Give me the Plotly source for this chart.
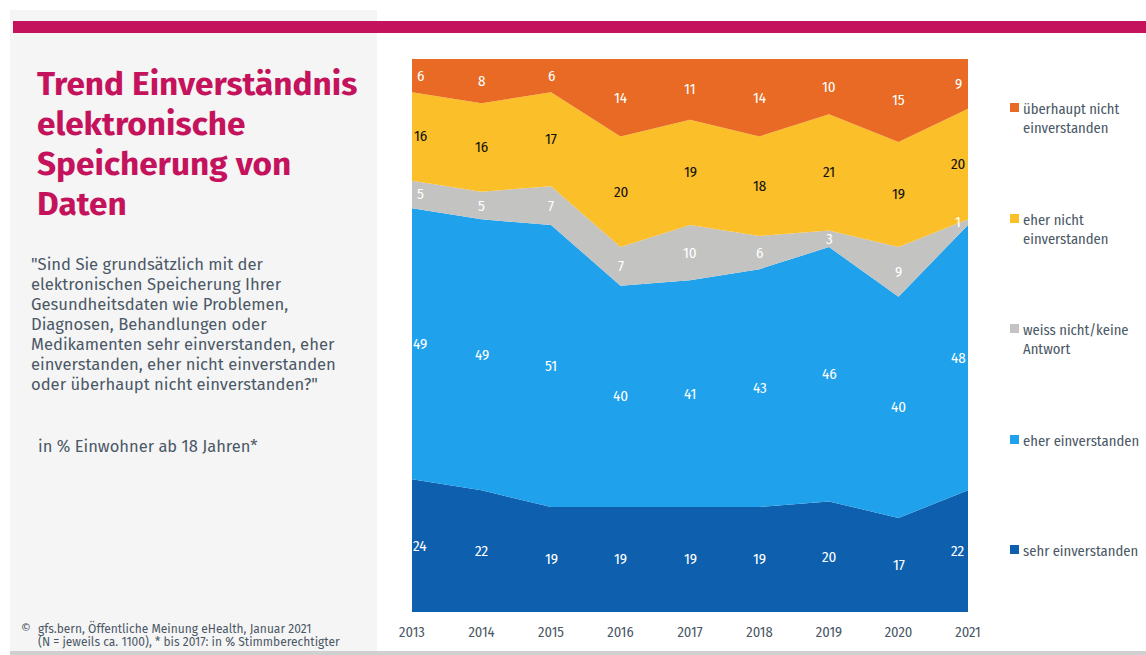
import plotly.graph_objects as go

years = [2013, 2014, 2015, 2016, 2017, 2018, 2019, 2020, 2021]
year_labels = [str(y) for y in years]

series_names = ["sehr einverstanden", "eher einverstanden", "weiss nicht/keine<br>Antwort",
                "eher nicht<br>einverstanden", "überhaupt nicht<br>einverstanden"]
sehr = [24, 22, 19, 19, 19, 19, 20, 17, 22]
eher_ein = [49, 49, 51, 40, 41, 43, 46, 40, 48]
weiss = [5, 5, 7, 7, 10, 6, 3, 9, 1]
eher_nicht = [16, 16, 17, 20, 19, 18, 21, 19, 20]
ueberhaupt = [6, 8, 6, 14, 11, 14, 10, 15, 9]
series_values = [sehr, eher_ein, weiss, eher_nicht, ueberhaupt]
colors = ["#0E5FAE", "#1FA1EB", "#C3C3C1", "#FBBF29", "#E86A24"]
label_colors = ["white", "white", "white", "#111111", "white"]

title_lines = ["Trend Einverständnis", "elektronische", "Speicherung von", "Daten"]
question_lines = ['"Sind Sie grundsätzlich mit der', "elektronischen Speicherung Ihrer",
                  "Gesundheitsdaten wie Problemen,", "Diagnosen, Behandlungen oder",
                  "Medikamenten sehr einverstanden, eher", "einverstanden, eher nicht einverstanden",
                  'oder überhaupt nicht einverstanden?"']
base_text = "in % Einwohner ab 18 Jahren*"
source_lines = ["gfs.bern, Öffentliche Meinung eHealth, Januar 2021",
                "(N = jeweils ca. 1100), * bis 2017: in % Stimmberechtigter"]

W, H = 1146, 655
L, R, T, B = 412, 968, 59, 612

def px(x):
    return (x - L) / (R - L)

def py(y):
    return (B - y) / (B - T)

TXT = "#4B5866"
SANS = "Fira Sans, Open Sans, Noto Sans, sans-serif"
COND = "Fira Sans Condensed, DejaVu Sans Condensed, Liberation Sans Narrow, Roboto, sans-serif"

fig = go.Figure()
for name, vals, col in zip(series_names, series_values, colors):
    fig.add_trace(go.Scatter(
        x=years, y=vals, name=name.replace("<br>", " "), stackgroup="one", mode="lines",
        line=dict(width=0, color=col), fillcolor=col, hoverinfo="x+y+name",
        showlegend=False))

annotations = []
base = [0] * len(years)
for vals, lc in zip(series_values, label_colors):
    for i, (yr, v) in enumerate(zip(years, vals)):
        shift = 8 if i == 0 else (-10 if i == len(years) - 1 else 0)
        annotations.append(dict(
            x=yr, y=base[i] + v / 2, xref="x", yref="y", text=str(v),
            showarrow=False, xshift=shift,
            font=dict(family=COND, size=15, color=lc)))
    base = [b + v for b, v in zip(base, vals)]

# legend (manual, top to bottom)
legend_y = [108, 219, 329, 440, 550]
for name, col, ly in zip(reversed(series_names), reversed(colors), legend_y):
    annotations.append(dict(
        x=px(1021), y=py(ly - 10), xref="paper", yref="paper", text=name,
        showarrow=False, xanchor="left", yanchor="top", align="left",
        font=dict(family=COND, size=14.6, color=TXT)))

shapes = []
shapes.append(dict(type="rect", xref="paper", yref="paper",
                   x0=px(10), x1=px(377), y0=py(651), y1=py(10),
                   fillcolor="#F5F5F5", line=dict(width=0), layer="below"))
shapes.append(dict(type="rect", xref="paper", yref="paper",
                   x0=px(13), x1=px(1146), y0=py(33), y1=py(21),
                   fillcolor="#C4135C", line=dict(width=0), layer="below"))
shapes.append(dict(type="rect", xref="paper", yref="paper",
                   x0=px(10), x1=px(1146), y0=py(655), y1=py(651),
                   fillcolor="#D0D0D0", line=dict(width=0), layer="below"))
for col, ly in zip(reversed(colors), legend_y):
    shapes.append(dict(type="rect", xref="paper", yref="paper",
                       x0=px(1010), x1=px(1019), y0=py(ly + 4), y1=py(ly - 5),
                       fillcolor=col, line=dict(width=0)))

def left_text(text, x, y, size, color, bold=False):
    annotations.append(dict(
        x=px(x), y=py(y), xref="paper", yref="paper",
        text=f"<b>{text}</b>" if bold else text,
        showarrow=False, xanchor="left", yanchor="middle", align="left",
        font=dict(family=SANS, size=size, color=color)))

for i, line in enumerate(title_lines):
    left_text(line, 35, 84 + 40 * i, 33.4, "#C4135C", bold=True)
for i, line in enumerate(question_lines):
    left_text(line, 29, 264 + 20 * i, 16.6, TXT)
left_text(base_text, 36, 446, 16.5, TXT)
left_text("©", 19, 628, 12, TXT)
for i, line in enumerate(source_lines):
    left_text(line, 36, 628 + 14 * i, 12, TXT)

fig.update_layout(
    width=W, height=H,
    margin=dict(l=L, r=W - R, t=T, b=H - B, pad=0),
    paper_bgcolor="white", plot_bgcolor="white",
    xaxis=dict(range=[2013, 2021], tickvals=years, ticktext=year_labels,
               showgrid=False, zeroline=False, showline=False,
               ticks="outside", ticklen=7, tickcolor="rgba(0,0,0,0)",
               tickfont=dict(family=COND, size=14.5, color=TXT), fixedrange=True),
    yaxis=dict(range=[0, 100], visible=False, fixedrange=True),
    annotations=annotations, shapes=shapes, showlegend=False,
    hovermode="closest",
)

fig.write_html("out.html", config={"displayModeBar": False},
               post_script="document.body.style.margin='0';document.body.style.padding='0';")
